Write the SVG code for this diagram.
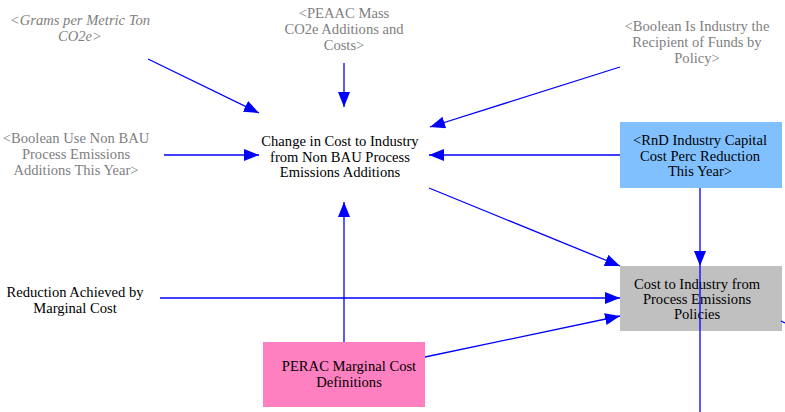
<svg xmlns="http://www.w3.org/2000/svg" width="785" height="412" viewBox="0 0 785 412">
<style>
text{font-family:'Liberation Serif','Times New Roman',serif;font-size:14.6px;text-anchor:middle}
.g{fill:#808080}
.k{fill:#000}
.c{stroke:#0000ff;stroke-width:1.3;fill:none}
.a{marker-end:url(#ah)}
</style>
<defs>
<marker id="ah" markerUnits="userSpaceOnUse" markerWidth="16" markerHeight="12" refX="15" refY="6" orient="auto">
<path d="M0,0 L15,6 L0,12 Z" fill="#0000ff"/>
</marker>
</defs>
<rect width="785" height="412" fill="#fff"/>
<g id="connectors">
<line class="c a" x1="148" y1="59" x2="259" y2="113"/>
<line class="c a" x1="344" y1="63" x2="344" y2="107"/>
<line class="c a" x1="620" y1="67" x2="430" y2="127"/>
<line class="c a" x1="164" y1="155" x2="259" y2="155"/>
<line class="c a" x1="620" y1="155" x2="429" y2="155"/>
<line class="c a" x1="429" y1="188" x2="620" y2="266"/>
<line class="c a" x1="700" y1="188" x2="700" y2="266"/>
<line class="c a" x1="160" y1="298" x2="620" y2="298"/>
<line class="c a" x1="425" y1="357" x2="620" y2="316"/>
<line class="c a" x1="344" y1="342" x2="344" y2="202"/>
</g>
<g id="grams">
<text class="g" x="80" y="25" font-style="italic">&lt;Grams per Metric Ton</text>
<text class="g" x="80" y="41" font-style="italic">CO2e&gt;</text>
</g>
<g id="peaac">
<text class="g" x="344" y="18">&lt;PEAAC Mass</text>
<text class="g" x="344" y="34">CO2e Additions and</text>
<text class="g" x="344" y="50">Costs&gt;</text>
</g>
<g id="recipient">
<text class="g" x="697" y="31">&lt;Boolean Is Industry the</text>
<text class="g" x="697" y="47">Recipient of Funds by</text>
<text class="g" x="697" y="63">Policy&gt;</text>
</g>
<g id="usenonbau">
<text class="g" x="76" y="143">&lt;Boolean Use Non BAU</text>
<text class="g" x="76" y="159">Process Emissions</text>
<text class="g" x="76" y="175">Additions This Year&gt;</text>
</g>
<g id="change">
<text class="k" x="340" y="146">Change in Cost to Industry</text>
<text class="k" x="340" y="162">from Non BAU Process</text>
<text class="k" x="340" y="177">Emissions Additions</text>
</g>
<g id="rnd">
<rect x="620" y="122" width="162" height="66" fill="#80c0ff"/>
<text class="k" x="700" y="145">&lt;RnD Industry Capital</text>
<text class="k" x="700" y="161">Cost Perc Reduction</text>
<text class="k" x="700" y="176">This Year&gt;</text>
</g>
<g id="cost">
<rect x="620" y="266" width="162" height="65" fill="#c0c0c0"/>
<text class="k" x="697" y="289">Cost to Industry from</text>
<text class="k" x="697" y="304">Process Emissions</text>
<text class="k" x="697" y="319">Policies</text>
</g>
<g id="reduction">
<text class="k" x="75" y="297">Reduction Achieved by</text>
<text class="k" x="75" y="313">Marginal Cost</text>
</g>
<g id="perac">
<rect x="263" y="342" width="162" height="65" fill="#ff80c0"/>
<text class="k" x="349" y="371">PERAC Marginal Cost</text>
<text class="k" x="349" y="387">Definitions</text>
</g>
<line class="c" x1="700" y1="266" x2="700" y2="412"/>
<line class="c" x1="781" y1="321" x2="785" y2="323"/>
</svg>
